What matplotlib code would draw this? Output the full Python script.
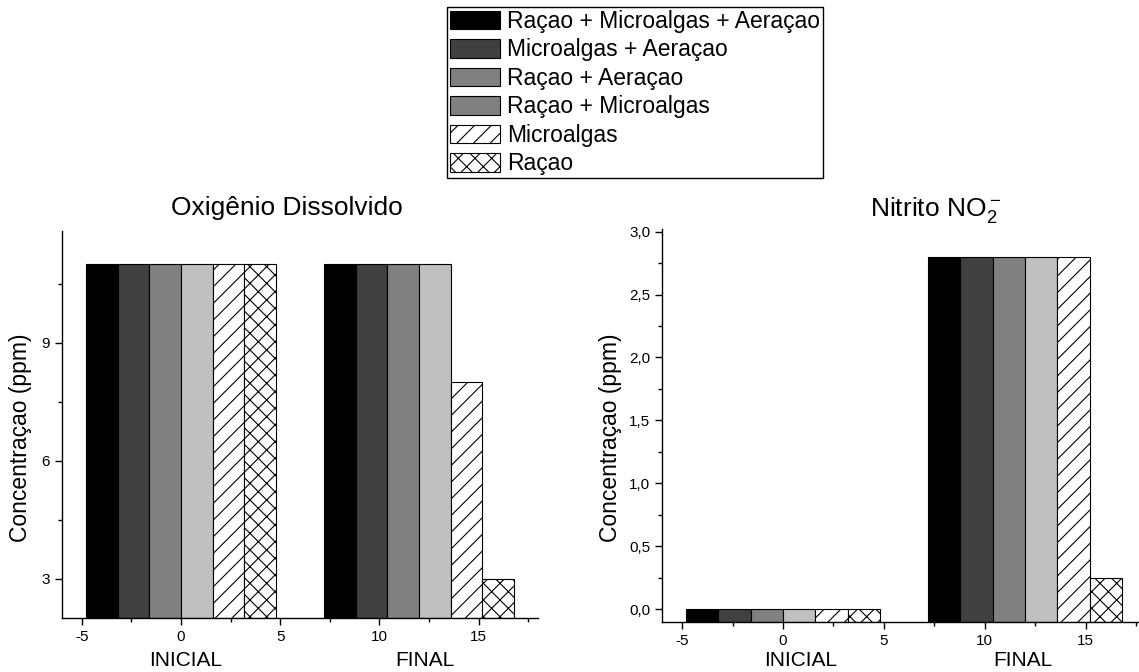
import matplotlib
matplotlib.use('Agg')
import matplotlib.pyplot as plt
import matplotlib.transforms as mtransforms
from matplotlib.patches import Patch
from matplotlib.ticker import MultipleLocator, FuncFormatter

plt.rcParams['font.family'] = ['Liberation Sans', 'DejaVu Sans']
plt.rcParams['mathtext.fontset'] = 'custom'
plt.rcParams['mathtext.rm'] = 'Liberation Sans'
plt.rcParams['mathtext.it'] = 'Liberation Sans'
plt.rcParams['hatch.linewidth'] = 0.8
plt.rcParams['axes.unicode_minus'] = False

# data
series = ['Raçao + Microalgas + Aeraçao', 'Microalgas + Aeraçao', 'Raçao + Aeraçao',
          'Raçao + Microalgas', 'Microalgas', 'Raçao']
groups = ['INICIAL', 'FINAL']
group_pos = [0, 12]
od_inicial = [11, 11, 11, 11, 11, 11]
od_final = [11, 11, 11, 11, 8, 3]
no2_inicial = [0, 0, 0, 0, 0, 0]
no2_final = [2.8, 2.8, 2.8, 2.8, 2.8, 0.25]

# styles
colors = ['#000000', '#404040', '#808080', '#c0c0c0', 'white', 'white']
hatches = [None, None, None, None, '//', 'xx']
legend_colors = ['#000000', '#404040', '#808080', '#808080', 'white', 'white']
width = 1.6

fig = plt.figure(figsize=(11.39, 6.72), dpi=100)
ax1 = fig.add_axes([62 / 1139, 1 - 618 / 672, 476 / 1139, 387 / 672])
ax2 = fig.add_axes([662 / 1139, 1 - 622 / 672, 484 / 1139, 393 / 672])


def draw(ax, vals_by_group, ymin, ymax):
    # bars start at the bottom of the axis, like the original
    for g, vals in zip(group_pos, vals_by_group):
        for i, v in enumerate(vals):
            x = g + (i - 2.5) * width
            ax.bar(x, v - ymin, bottom=ymin, width=width, color=colors[i],
                   hatch=hatches[i], edgecolor='black', linewidth=0.8)
    ax.set_xlim(-6, 18)
    ax.set_ylim(ymin, ymax)
    for s in ['top', 'right']:
        ax.spines[s].set_visible(False)
    for s in ['left', 'bottom']:
        ax.spines[s].set_linewidth(1.0)
    ax.xaxis.set_major_locator(MultipleLocator(5))
    ax.xaxis.set_minor_locator(MultipleLocator(2.5))
    ax.tick_params(which='major', length=5, width=1.0, direction='out', labelsize=11)
    ax.tick_params(which='minor', length=3, width=1.0, direction='out')


draw(ax1, [od_inicial, od_final], 2, 11.85)
ax1.yaxis.set_major_locator(MultipleLocator(3))
ax1.yaxis.set_minor_locator(MultipleLocator(1.5))

draw(ax2, [no2_inicial, no2_final], -0.1, 3.02)
ax2.yaxis.set_major_locator(MultipleLocator(0.5))
ax2.yaxis.set_minor_locator(MultipleLocator(0.25))
ax2.yaxis.set_major_formatter(FuncFormatter(lambda v, p: f'{v:.1f}'.replace('.', ',')))

# group labels under the axes
for ax, offs in [(ax1, [0.25, 12.3]), (ax2, [0.85, 11.9])]:
    trans = mtransforms.blended_transform_factory(ax.transData, fig.transFigure)
    for name, x in zip(groups, offs):
        ax.text(x, 1 - 660 / 672, name, transform=trans,
                ha='center', va='center', fontsize=15)

fig.text(287 / 1139, 1 - 208 / 672, 'Oxigênio Dissolvido', ha='center', va='center', fontsize=19)
fig.text(935 / 1139, 1 - 210 / 672, r'Nitrito NO$_2^-$', ha='center', va='center', fontsize=19)
fig.text(21 / 1139, 1 - 438 / 672, 'Concentraçao (ppm)', rotation=90,
         ha='center', va='center', fontsize=16.5)
fig.text(610 / 1139, 1 - 438 / 672, 'Concentraçao (ppm)', rotation=90,
         ha='center', va='center', fontsize=16.5)

handles = [Patch(facecolor=c, edgecolor='black', hatch=h, linewidth=0.8)
           for c, h in zip(legend_colors, hatches)]
leg = fig.legend(handles, series, loc='upper left',
                 bbox_to_anchor=(447 / 1139, 1 - 7 / 672),
                 fontsize=16.5, frameon=True, fancybox=False, framealpha=1,
                 edgecolor='black', borderpad=0.12, labelspacing=0.24,
                 handlelength=2.2, handleheight=0.87, handletextpad=0.3,
                 borderaxespad=0)
leg.get_frame().set_linewidth(1.0)

fig.savefig('out.png', dpi=100)
